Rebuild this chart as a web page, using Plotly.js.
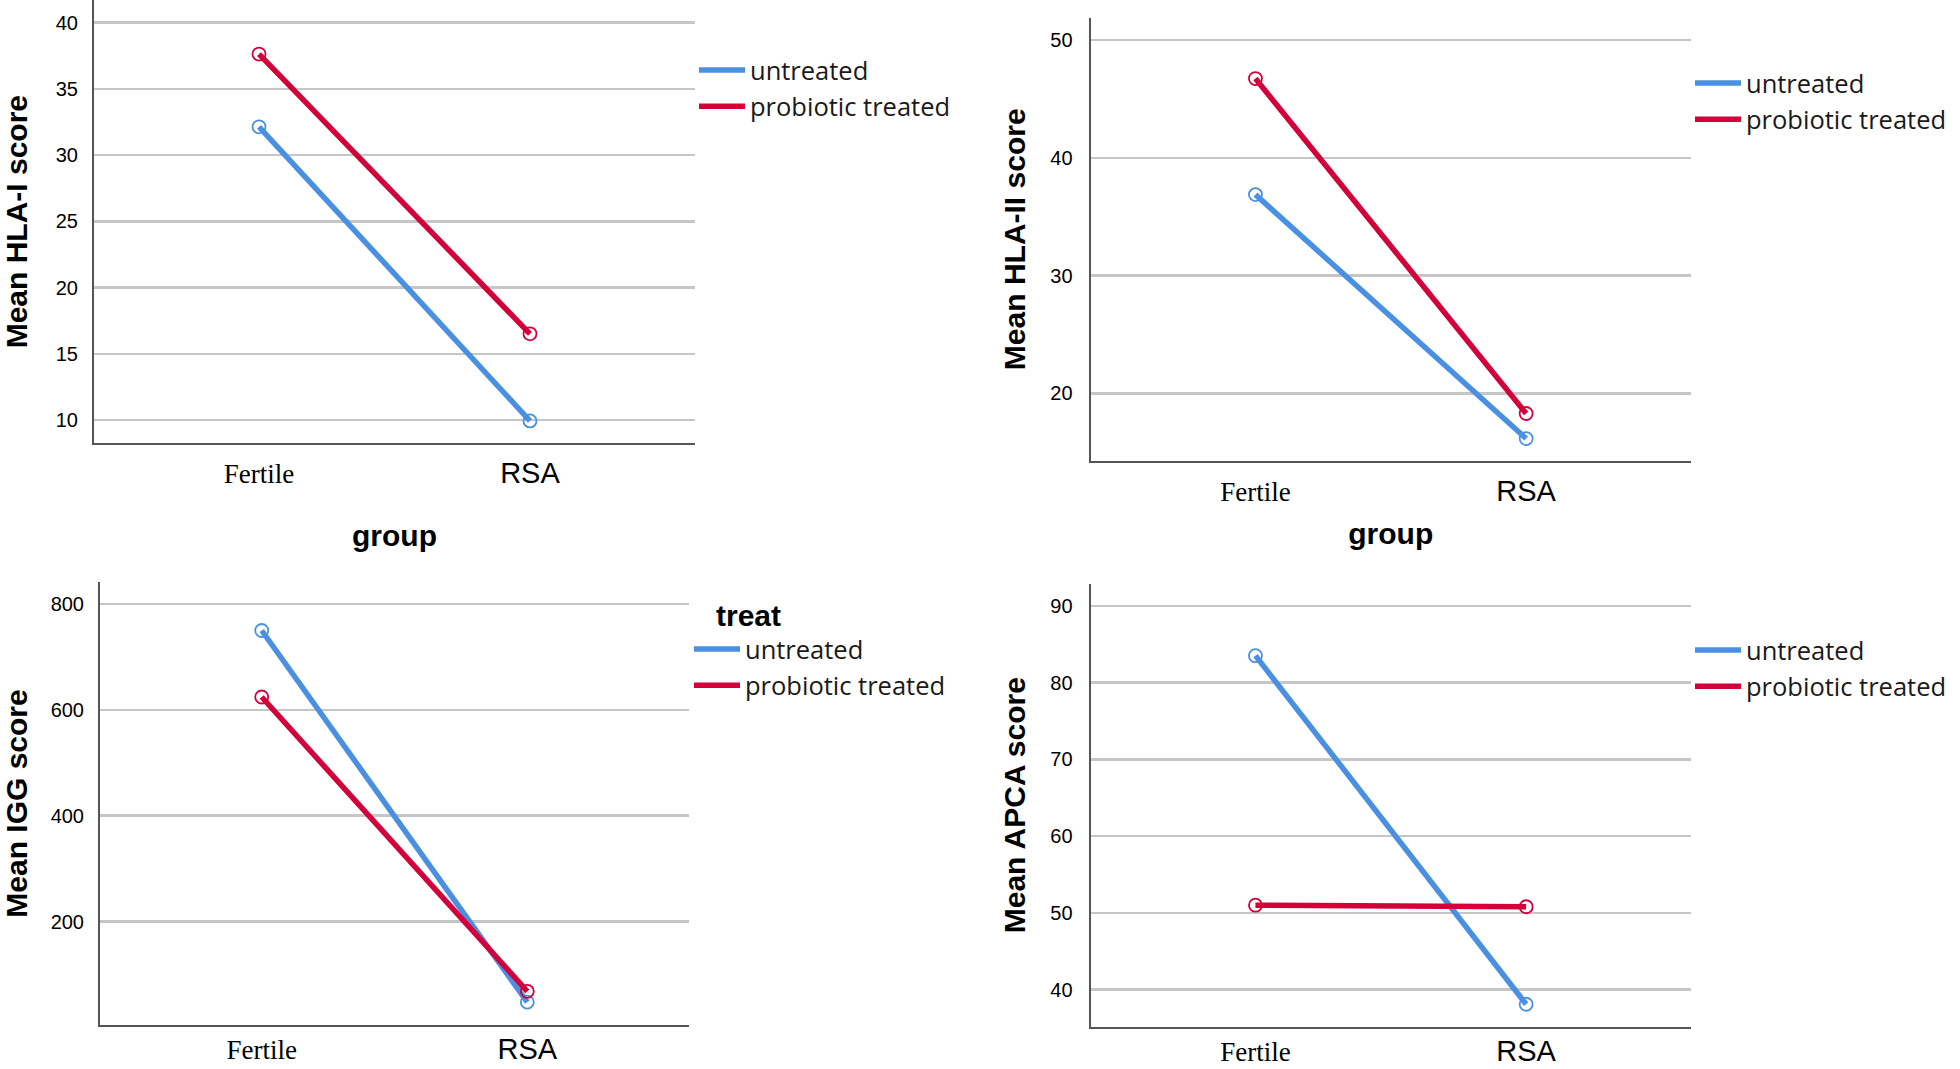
<!DOCTYPE html>
<html>
<head>
<meta charset="utf-8">
<script src="https://cdn.plot.ly/plotly-3.0.1.min.js"></script>
<style>
  html, body { margin: 0; padding: 0; background: #ffffff; }
  #chart { width: 1960px; height: 1069px; }
</style>
</head>
<body>
<div id="chart"></div>
<script>
// ---- data ----
const groups = ["Fertile", "RSA"];
const treatments = ["untreated", "probiotic treated"];
const legendTitle = "treat";
const xTitle = "group";

const hla1Untreated = [32.14, 9.95];
const hla1Probiotic = [37.63, 16.52];
const hla2Untreated = [36.88, 16.17];
const hla2Probiotic = [46.73, 18.3];
const iggUntreated = [749.8, 47.8];
const iggProbiotic = [624.2, 68.2];
const apcaUntreated = [83.5, 38.1];
const apcaProbiotic = [51.0, 50.8];

const hla1Ticks = [10, 15, 20, 25, 30, 35, 40];
const hla2Ticks = [20, 30, 40, 50];
const iggTicks = [200, 400, 600, 800];
const apcaTicks = [40, 50, 60, 70, 80, 90];

const yTitles = ["Mean HLA-I score", "Mean HLA-II score", "Mean IGG score", "Mean APCA score"];

// ---- styles ----
const colors = ["#4a90e2", "#d4003a"];
const W = 1960, H = 1069;

const panels = [
  {vals: [hla1Untreated, hla1Probiotic], ticks: hla1Ticks, yr: [8.26, 41.71],
   px: [94, 695], py: [0, 443.3], showX: true, xStand: 37, xTick: 14, yStand: 39, yTick: 10,
   legY: 47, legX: 694, legTitle: false},
  {vals: [hla2Untreated, hla2Probiotic], ticks: hla2Ticks, yr: [14.3, 51.88],
   px: [1090.6, 1691], py: [17.9, 460.6], showX: true, xStand: 17, xTick: 14, yStand: 15.5, yTick: 12,
   legY: 60, legX: 1690, legTitle: false},
  {vals: [iggUntreated, iggProbiotic], ticks: iggTicks, yr: [5, 841],
   px: [100, 689], py: [582.2, 1024.8], showX: false, xStand: 0, xTick: 8, yStand: 39, yTick: 10,
   legY: 587, legX: 689, legTitle: true},
  {vals: [apcaUntreated, apcaProbiotic], ticks: apcaTicks, yr: [35.2, 92.85],
   px: [1090.6, 1691], py: [583.9, 1026.5], showX: false, xStand: 0, xTick: 8, yStand: 15.5, yTick: 12,
   legY: 627, legX: 1690, legTitle: false}
];

const tickText = groups.map((g, i) => i === 0
  ? '<span style="font-family:\'Liberation Serif\', serif;font-size:27px">' + g + '</span>'
  : '<span style="font-family:\'Liberation Sans\', Arial, sans-serif;font-size:29px">' + g + '</span>');

const data = [];
const layout = {
  width: W, height: H,
  margin: {l: 0, r: 0, t: 0, b: 0},
  paper_bgcolor: "#ffffff", plot_bgcolor: "#ffffff",
  font: {family: "'Liberation Sans', Arial, sans-serif", color: "#000000", size: 20},
  hovermode: false
};

panels.forEach((p, k) => {
  const n = k + 1;
  const xa = "x" + (n === 1 ? "" : n), ya = "y" + (n === 1 ? "" : n);
  const legName = "legend" + (n === 1 ? "" : n);
  treatments.forEach((t, j) => {
    data.push({
      type: "scatter", mode: "lines", x: groups, y: p.vals[j], name: t,
      xaxis: xa, yaxis: ya, legend: legName, showlegend: true,
      line: {color: colors[j], width: 5.5}, cliponaxis: false
    });
  });
  treatments.forEach((t, j) => {
    data.push({
      type: "scatter", mode: "markers", x: groups, y: p.vals[j], name: t,
      xaxis: xa, yaxis: ya, showlegend: false,
      marker: {symbol: "circle-open", size: 13, color: colors[j], line: {width: 1.8, color: colors[j]}},
      cliponaxis: false
    });
  });
  layout["xaxis" + (n === 1 ? "" : n)] = {
    domain: [p.px[0] / W, p.px[1] / W],
    anchor: ya, type: "category", categoryarray: groups,
    range: [-0.609, 1.609],
    tickmode: "array", tickvals: groups, ticktext: tickText,
    ticks: "", ticklabelstandoff: p.xTick,
    showgrid: false, zeroline: false,
    showline: true, linecolor: "#555555", linewidth: 2,
    tickfont: {color: "#000000"},
    title: p.showX ? {text: xTitle, standoff: p.xStand,
      font: {family: "'Liberation Sans', Arial, sans-serif", size: 30, weight: "bold", color: "#000000"}} : {text: ""},
    fixedrange: true
  };
  layout["yaxis" + (n === 1 ? "" : n)] = {
    domain: [1 - p.py[1] / H, 1 - p.py[0] / H],
    anchor: xa, range: p.yr,
    tickmode: "array", tickvals: p.ticks, ticks: "", ticklabelstandoff: p.yTick,
    tickfont: {family: "'Liberation Sans', Arial, sans-serif", size: 20, color: "#000000"},
    showgrid: true, gridcolor: "#c6c6c6", gridwidth: 2.5,
    zeroline: false, showline: true, linecolor: "#555555", linewidth: 2,
    title: {text: yTitles[k], standoff: p.yStand,
      font: {family: "'Liberation Sans', Arial, sans-serif", size: 30, weight: "bold", color: "#000000"}},
    fixedrange: true
  };
  layout[legName] = {
    x: p.legX / W, y: 1 - p.legY / H, xanchor: "left", yanchor: "top",
    bgcolor: "rgba(0,0,0,0)", borderwidth: 0, itemwidth: 46,
    font: {family: "'Open Sans', sans-serif", size: 25.5, color: "#1a1a1a"},
    tracegroupgap: 0,
    title: p.legTitle ? {text: "\u00a0\u00a0\u00a0" + legendTitle, side: "top",
      font: {family: "'Liberation Sans', Arial, sans-serif", size: 30, weight: "bold", color: "#000000"}} : {text: ""}
  };
});

Plotly.newPlot("chart", data, layout, {displayModeBar: false, staticPlot: true});
</script>
</body>
</html>
